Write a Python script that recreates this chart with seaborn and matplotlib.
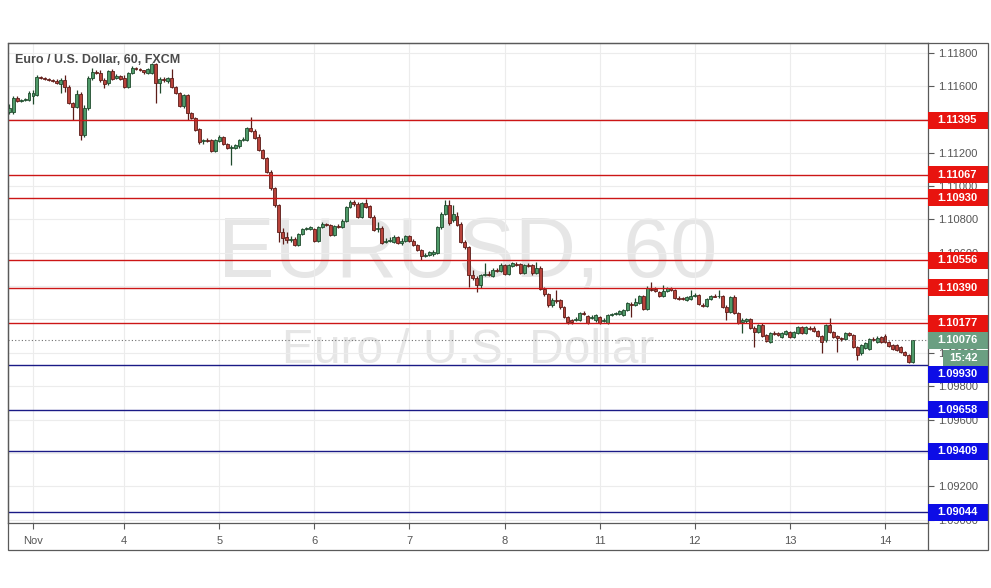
import numpy as np
import matplotlib
matplotlib.use("Agg")
import matplotlib.pyplot as plt
import matplotlib.patches as mpatches
import matplotlib.transforms as mtrans
from matplotlib.lines import Line2D
import seaborn as sns

# ---------------- data (EUR/USD, 60 min candles) ----------------
opens = [1.11443,1.11443,1.11527,1.11509,1.11515,1.11515,1.11539,1.11545,1.11653,1.11647,
1.11641,1.11635,1.11629,1.11611,1.11635,1.11593,1.11497,1.11473,1.11551,1.11305,
1.11467,1.11647,1.11683,1.11677,1.11635,1.11617,1.11689,1.11647,1.11659,1.11647,
1.11593,1.11677,1.11707,1.11701,1.11695,1.11677,1.11677,1.11731,1.11617,1.11641,
1.11629,1.11647,1.11593,1.11557,1.11479,1.11545,1.11437,1.11407,1.11341,1.11269,
1.11275,1.11275,1.11212,1.11269,1.11293,1.11251,1.11227,1.11227,1.11239,1.11275,
1.11275,1.11347,1.11329,1.11293,1.11218,1.11170,1.11086,1.10990,1.10888,1.10726,
1.10696,1.10678,1.10684,1.10648,1.10714,1.10744,1.10744,1.10744,1.10672,1.10756,
1.10774,1.10768,1.10708,1.10762,1.10756,1.10792,1.10876,1.10906,1.10894,1.10816,
1.10900,1.10882,1.10816,1.10744,1.10750,1.10666,1.10672,1.10666,1.10696,1.10660,
1.10672,1.10702,1.10672,1.10648,1.10618,1.10582,1.10588,1.10594,1.10600,1.10756,
1.10834,1.10888,1.10798,1.10822,1.10774,1.10666,1.10636,1.10468,1.10450,1.10408,
1.10468,1.10474,1.10462,1.10498,1.10492,1.10528,1.10474,1.10522,1.10534,1.10534,
1.10480,1.10528,1.10528,1.10480,1.10510,1.10384,1.10354,1.10288,1.10318,1.10318,
1.10276,1.10216,1.10198,1.10198,1.10198,1.10240,1.10222,1.10210,1.10198,1.10216,
1.10192,1.10180,1.10228,1.10234,1.10234,1.10228,1.10258,1.10294,1.10288,1.10300,
1.10342,1.10264,1.10384,1.10384,1.10366,1.10342,1.10372,1.10390,1.10378,1.10330,
1.10330,1.10318,1.10324,1.10342,1.10348,1.10288,1.10282,1.10324,1.10342,1.10342,
1.10342,1.10276,1.10246,1.10336,1.10240,1.10186,1.10192,1.10204,1.10150,1.10126,
1.10168,1.10108,1.10066,1.10120,1.10120,1.10096,1.10114,1.10126,1.10096,1.10120,
1.10156,1.10120,1.10150,1.10150,1.10132,1.10102,1.10078,1.10168,1.10126,1.10102,
1.10090,1.10084,1.10120,1.10108,1.10036,1.10000,1.10030,1.10024,1.10084,1.10066,
1.10096,1.10102,1.10066,1.10048,1.10048,1.10036,1.10006,1.09988,1.09946]

highs = [1.11491,1.11539,1.11539,1.11521,1.11527,1.11569,1.11575,1.11665,1.11659,1.11653,
1.11647,1.11641,1.11641,1.11647,1.11665,1.11605,1.11503,1.11575,1.11563,1.11485,
1.11659,1.11707,1.11695,1.11695,1.11647,1.11695,1.11701,1.11671,1.11665,1.11665,
1.11683,1.11719,1.11713,1.11707,1.11695,1.11707,1.11737,1.11737,1.11653,1.11653,
1.11653,1.11701,1.11599,1.11563,1.11551,1.11551,1.11443,1.11413,1.11347,1.11281,
1.11287,1.11281,1.11281,1.11305,1.11299,1.11257,1.11245,1.11251,1.11281,1.11293,
1.11353,1.11413,1.11341,1.11311,1.11221,1.11176,1.11098,1.10996,1.10894,1.10750,
1.10726,1.10702,1.10696,1.10720,1.10750,1.10756,1.10762,1.10750,1.10762,1.10786,
1.10780,1.10774,1.10768,1.10774,1.10804,1.10882,1.10918,1.10918,1.10906,1.10906,
1.10924,1.10888,1.10828,1.10786,1.10762,1.10690,1.10696,1.10708,1.10702,1.10690,
1.10708,1.10708,1.10684,1.10654,1.10624,1.10600,1.10612,1.10618,1.10762,1.10846,
1.10918,1.10918,1.10888,1.10846,1.10786,1.10678,1.10642,1.10498,1.10462,1.10474,
1.10540,1.10492,1.10510,1.10510,1.10540,1.10534,1.10534,1.10546,1.10546,1.10540,
1.10534,1.10540,1.10534,1.10546,1.10522,1.10396,1.10360,1.10330,1.10378,1.10324,
1.10282,1.10222,1.10204,1.10216,1.10246,1.10252,1.10228,1.10228,1.10234,1.10222,
1.10210,1.10234,1.10240,1.10246,1.10258,1.10264,1.10306,1.10306,1.10330,1.10348,
1.10348,1.10402,1.10426,1.10396,1.10372,1.10408,1.10396,1.10396,1.10384,1.10342,
1.10336,1.10342,1.10378,1.10360,1.10354,1.10300,1.10330,1.10348,1.10354,1.10378,
1.10348,1.10288,1.10342,1.10348,1.10246,1.10210,1.10210,1.10210,1.10162,1.10174,
1.10180,1.10114,1.10126,1.10132,1.10126,1.10126,1.10138,1.10132,1.10132,1.10162,
1.10162,1.10162,1.10162,1.10162,1.10138,1.10108,1.10174,1.10210,1.10132,1.10108,
1.10096,1.10126,1.10126,1.10114,1.10042,1.10054,1.10066,1.10090,1.10096,1.10102,
1.10102,1.10114,1.10072,1.10054,1.10054,1.10042,1.10012,1.09994,1.10078]

lows = [1.11431,1.11431,1.11503,1.11503,1.11509,1.11509,1.11491,1.11539,1.11641,1.11635,
1.11629,1.11623,1.11611,1.11557,1.11563,1.11491,1.11395,1.11467,1.11275,1.11293,
1.11455,1.11635,1.11671,1.11623,1.11587,1.11605,1.11635,1.11641,1.11635,1.11587,
1.11587,1.11671,1.11695,1.11689,1.11671,1.11671,1.11671,1.11497,1.11557,1.11623,
1.11617,1.11587,1.11551,1.11473,1.11467,1.11395,1.11401,1.11329,1.11251,1.11251,
1.11263,1.11206,1.11206,1.11263,1.11245,1.11221,1.11128,1.11221,1.11227,1.11269,
1.11269,1.11323,1.11281,1.11212,1.11164,1.11080,1.10978,1.10876,1.10666,1.10654,
1.10660,1.10666,1.10642,1.10642,1.10708,1.10738,1.10738,1.10666,1.10666,1.10750,
1.10762,1.10702,1.10702,1.10750,1.10750,1.10786,1.10870,1.10882,1.10810,1.10810,
1.10870,1.10810,1.10732,1.10726,1.10654,1.10660,1.10666,1.10660,1.10654,1.10648,
1.10666,1.10666,1.10642,1.10612,1.10558,1.10576,1.10582,1.10582,1.10594,1.10744,
1.10828,1.10768,1.10786,1.10762,1.10660,1.10624,1.10396,1.10438,1.10366,1.10390,
1.10462,1.10462,1.10456,1.10486,1.10486,1.10468,1.10468,1.10516,1.10522,1.10474,
1.10474,1.10516,1.10468,1.10474,1.10378,1.10342,1.10276,1.10276,1.10300,1.10264,
1.10210,1.10174,1.10174,1.10192,1.10192,1.10228,1.10174,1.10204,1.10186,1.10174,
1.10186,1.10174,1.10222,1.10228,1.10228,1.10222,1.10252,1.10216,1.10282,1.10294,
1.10258,1.10258,1.10372,1.10366,1.10336,1.10336,1.10366,1.10372,1.10324,1.10318,
1.10318,1.10312,1.10318,1.10336,1.10288,1.10276,1.10276,1.10318,1.10336,1.10330,
1.10270,1.10198,1.10240,1.10234,1.10174,1.10120,1.10180,1.10144,1.10036,1.10120,
1.10096,1.10066,1.10060,1.10108,1.10102,1.10090,1.10108,1.10090,1.10090,1.10114,
1.10114,1.10114,1.10138,1.10126,1.10096,1.10000,1.10066,1.10120,1.10090,1.10006,
1.10072,1.10078,1.10102,1.10030,1.09958,1.09988,1.10024,1.10018,1.10072,1.10060,
1.10060,1.10060,1.10036,1.10018,1.10012,1.10000,1.09982,1.09940,1.09940]

closes = [1.11467,1.11527,1.11509,1.11515,1.11521,1.11557,1.11557,1.11653,1.11647,1.11641,
1.11635,1.11629,1.11617,1.11635,1.11593,1.11497,1.11473,1.11551,1.11305,1.11467,
1.11647,1.11683,1.11677,1.11635,1.11611,1.11689,1.11641,1.11659,1.11641,1.11593,
1.11677,1.11707,1.11701,1.11695,1.11683,1.11701,1.11731,1.11617,1.11641,1.11635,
1.11647,1.11593,1.11557,1.11479,1.11545,1.11437,1.11407,1.11335,1.11263,1.11275,
1.11269,1.11212,1.11275,1.11293,1.11251,1.11227,1.11233,1.11245,1.11275,1.11281,
1.11347,1.11329,1.11287,1.11218,1.11170,1.11086,1.10990,1.10888,1.10726,1.10690,
1.10678,1.10684,1.10648,1.10714,1.10744,1.10750,1.10756,1.10672,1.10756,1.10774,
1.10768,1.10708,1.10762,1.10756,1.10792,1.10876,1.10906,1.10894,1.10816,1.10900,
1.10876,1.10816,1.10738,1.10750,1.10660,1.10672,1.10678,1.10696,1.10660,1.10672,
1.10702,1.10672,1.10648,1.10618,1.10582,1.10588,1.10606,1.10606,1.10756,1.10834,
1.10888,1.10780,1.10834,1.10768,1.10666,1.10636,1.10468,1.10450,1.10408,1.10468,
1.10474,1.10468,1.10498,1.10492,1.10528,1.10474,1.10528,1.10540,1.10528,1.10480,
1.10528,1.10522,1.10480,1.10510,1.10384,1.10354,1.10288,1.10318,1.10312,1.10276,
1.10216,1.10186,1.10186,1.10204,1.10240,1.10234,1.10180,1.10216,1.10228,1.10180,
1.10198,1.10228,1.10234,1.10240,1.10252,1.10258,1.10300,1.10288,1.10306,1.10342,
1.10264,1.10390,1.10378,1.10372,1.10342,1.10372,1.10390,1.10378,1.10330,1.10324,
1.10324,1.10336,1.10342,1.10348,1.10294,1.10282,1.10324,1.10342,1.10336,1.10342,
1.10276,1.10246,1.10336,1.10240,1.10180,1.10198,1.10204,1.10150,1.10126,1.10168,
1.10102,1.10072,1.10120,1.10114,1.10108,1.10120,1.10132,1.10096,1.10126,1.10156,
1.10120,1.10156,1.10144,1.10132,1.10102,1.10066,1.10168,1.10126,1.10096,1.10090,
1.10084,1.10120,1.10108,1.10036,1.09988,1.10048,1.10060,1.10084,1.10078,1.10090,
1.10066,1.10066,1.10042,1.10024,1.10018,1.10006,1.09988,1.09946,1.10076]

day_tick_index = [6, 29, 53, 77, 101, 125, 149, 173, 197, 221]
day_tick_labels = ["Nov", "4", "5", "6", "7", "8", "11", "12", "13", "14"]

price_ticks = [1.09000, 1.09200, 1.09400, 1.09600, 1.09800, 1.10000, 1.10200,
               1.10400, 1.10600, 1.10800, 1.11000, 1.11200, 1.11400, 1.11600, 1.11800]
# tick labels that sit completely under a price-level tag in the picture
price_ticks_hidden = [1.09400, 1.10200, 1.10400, 1.11400]

resistance_levels = [1.11395, 1.11067, 1.10930, 1.10556, 1.10390, 1.10177]
support_levels = [1.09930, 1.09658, 1.09409, 1.09044]
last_price = 1.10076
countdown_text = "15:42"

title_text = "Euro / U.S. Dollar, 60, FXCM"
watermark_symbol = "EURUSD, 60"
watermark_name = "Euro / U.S. Dollar"

# ---------------- styling ----------------
sns.set_theme(style="white")
plt.rcParams['font.family'] = ['Liberation Sans', 'DejaVu Sans']

W, H = 991, 588
fig = plt.figure(figsize=(W / 100, H / 100), dpi=100)
fig.patch.set_facecolor("white")
ax_left, ax_right, ax_top, ax_bottom = 8, 928, 43, 523
ax = fig.add_axes([ax_left / W, (H - ax_bottom) / H,
                   (ax_right - ax_left) / W, (ax_bottom - ax_top) / H])
ax.set_facecolor("white")

up_face, up_edge = "#4f9a69", "#1f4a2c"
dn_face, dn_edge = "#b8433b", "#5c1c18"
red_line, red_box = "#cc1616", "#e8140f"
blue_line, blue_box = "#1a1a86", "#0d0de6"
green_box = "#6b9f82"
frame_col = "#5a5a5a"
ymin, ymax = 1.08980, 1.11857

# ---------------- watermark ----------------
ax.text(0.5, 0.513, watermark_symbol, transform=ax.transAxes, ha="center", va="baseline",
        fontsize=61, color="#e6e6e6", zorder=0.2)
ax.text(0.5, 0.333, watermark_name, transform=ax.transAxes, ha="center", va="baseline",
        fontsize=34.5, color="#e6e6e6", zorder=0.2)

# ---------------- candles ----------------
o = np.array(opens); c = np.array(closes); h = np.array(highs); l = np.array(lows)
idx = np.arange(len(c))
up = c >= o
wick_hi = np.maximum(h, np.maximum(o, c))
wick_lo = np.minimum(l, np.minimum(o, c))
body_bot = np.minimum(o, c)
body_h = np.maximum(np.abs(c - o), 0.000012)

ax.vlines(idx[up], wick_lo[up], wick_hi[up], color=up_edge, lw=0.9, zorder=2)
ax.vlines(idx[~up], wick_lo[~up], wick_hi[~up], color=dn_edge, lw=0.9, zorder=2)
ax.bar(idx[up], body_h[up], bottom=body_bot[up], width=0.74, color=up_face,
       edgecolor=up_edge, linewidth=0.6, zorder=3)
ax.bar(idx[~up], body_h[~up], bottom=body_bot[~up], width=0.74, color=dn_face,
       edgecolor=dn_edge, linewidth=0.6, zorder=3)

# ---------------- levels ----------------
for lv in resistance_levels:
    ax.axhline(lv, color=red_line, lw=1.0, zorder=4)
for lv in support_levels:
    ax.axhline(lv, color=blue_line, lw=1.0, zorder=4)
ax.axhline(last_price, color="#707070", lw=0.8, ls=(0, (1, 2)), zorder=4)

# ---------------- axes & ticks ----------------
ax.set_xlim(-0.3, 231.85)
ax.set_ylim(ymin, ymax)
ax.set_xticks(day_tick_index)
ax.set_xticklabels(day_tick_labels)
ax.set_yticks(price_ticks)
ax.set_yticklabels(["" if p in price_ticks_hidden else f"{p:.5f}" for p in price_ticks])
ax.yaxis.tick_right()
ax.tick_params(axis="y", which="both", right=True, left=False, length=4, width=0.8,
               color=frame_col, labelsize=8, labelcolor="#555555", pad=3)
ax.tick_params(axis="x", which="both", bottom=True, length=4, width=0.8,
               color=frame_col, labelsize=8, labelcolor="#555555", pad=5)
ax.grid(True, color="#ececec", lw=0.8)
for sp in ax.spines.values():
    sp.set_color(frame_col)
    sp.set_linewidth(0.9)
    sp.set_visible(True)

# ---------------- price label boxes on the right ----------------
trans = mtrans.blended_transform_factory(ax.transAxes, ax.transData)
px_x = 1.0 / (ax_right - ax_left)
px_y = (ymax - ymin) / (ax_bottom - ax_top)
half_h = 8.5 * px_y


def price_box(y, text, face, x0_px=0, x_text_px=9):
    ax.add_patch(mpatches.Rectangle((1.0 + x0_px * px_x, y - half_h),
                                    (60 - x0_px) * px_x, 2 * half_h,
                                    transform=trans, facecolor=face, edgecolor="none",
                                    clip_on=False, zorder=5))
    ax.text(1.0 + x_text_px * px_x, y, text, transform=trans, ha="left", va="center",
            fontsize=8, fontweight="bold", color="white", clip_on=False, zorder=6)


for lv in resistance_levels:
    price_box(lv, f"{lv:.5f}", red_box)
price_box(last_price, f"{last_price:.5f}", green_box)
price_box(last_price - 18 * px_y, countdown_text, green_box, x0_px=15, x_text_px=21)
for k, lv in enumerate(support_levels):
    # the first support tag is pushed down below the countdown tag
    shift = 9.5 * px_y if k == 0 else 0.0
    price_box(lv - shift, f"{lv:.5f}", blue_box)

# ---------------- title ----------------
ax.text(7 * px_x, 1 - 17 / (ax_bottom - ax_top), title_text, transform=ax.transAxes,
        ha="left", va="center", fontsize=9, fontweight="bold", color="#4a4a4a", zorder=7)

# ---------------- outer frame ----------------
fig.add_artist(mpatches.Rectangle((8 / W, (H - 550) / H), (988 - 8) / W, (550 - 43) / H,
                                  transform=fig.transFigure, fill=False,
                                  edgecolor=frame_col, lw=0.9))
fig.add_artist(Line2D([928 / W, 928 / W], [(H - 550) / H, (H - 523) / H],
                      transform=fig.transFigure, color=frame_col, lw=0.9))

fig.savefig("out.png", dpi=100, facecolor="white")
